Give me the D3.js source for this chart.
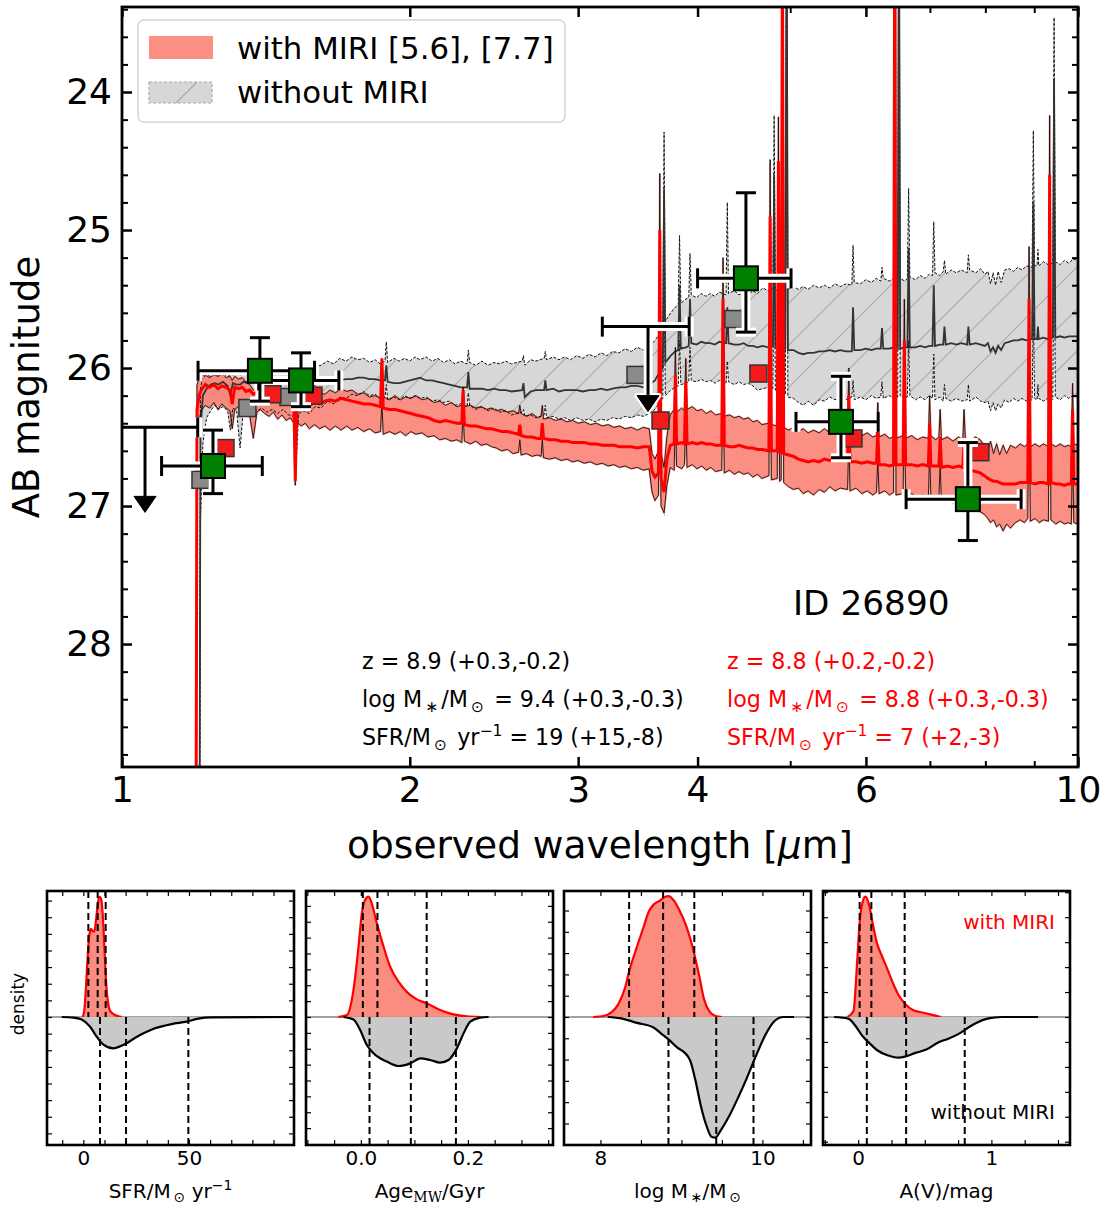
<!DOCTYPE html>
<html>
<head>
<meta charset="utf-8">
<script src="https://cdn.jsdelivr.net/npm/d3@7"></script>
<style>
  body { margin: 0; background: #fff; }
  svg { display: block; }
  text { font-family: "DejaVu Sans", sans-serif; }
</style>
</head>
<body>
<svg id="fig" width="1117" height="1205"></svg>
<script>
// ---------------- SED model spectra: [wavelength µm, upper, median, lower] in AB mag ----------------
const sedWithMiri = [
  [1.000,32,32,32],[1.193,32,32,32],[1.198,26.12,26.30,26.52],[1.204,26.08,26.20,26.38],
  [1.210,26.06,26.16,26.31],[1.222,26.05,26.12,26.27],[1.235,26.07,26.14,26.29],[1.248,26.05,26.12,26.25],
  [1.260,26.06,26.15,26.30],[1.272,26.04,26.13,26.26],[1.285,26.07,26.14,26.29],[1.297,26.06,26.16,26.31],
  [1.304,26.09,26.26,26.44],[1.312,26.06,26.14,26.30],[1.324,26.08,26.15,26.28],[1.336,26.07,26.14,26.31],
  [1.348,26.10,26.17,26.29],[1.360,26.12,26.16,26.34],[1.372,26.16,26.19,26.51],[1.384,26.15,26.18,26.32],
  [1.396,26.18,26.21,26.30],[1.410,26.17,26.19,26.33],[1.425,26.21,26.22,26.35],[1.440,26.19,26.20,26.32],
  [1.455,26.22,26.23,26.37],[1.470,26.20,26.21,26.34],[1.485,26.23,26.22,26.38],[1.500,26.21,26.24,26.36],
  [1.513,26.24,26.25,26.40],[1.518,26.62,26.82,26.85],[1.523,26.23,26.26,26.39],[1.540,26.21,26.24,26.42],
  [1.555,26.23,26.26,26.40],[1.570,26.20,26.27,26.44],[1.590,26.21,26.25,26.41],[1.610,26.18,26.26,26.44],
  [1.630,26.19,26.24,26.42],[1.650,26.16,26.23,26.45],[1.672,26.18,26.24,26.42],[1.695,26.15,26.22,26.45],
  [1.718,26.17,26.23,26.42],[1.740,26.16,26.24,26.45],[1.765,26.19,26.25,26.43],[1.790,26.18,26.26,26.46],
  [1.815,26.21,26.26,26.44],[1.840,26.20,26.27,26.47],[1.864,26.22,26.28,26.46],[1.870,25.95,25.93,26.25],
  [1.876,26.21,26.29,26.48],[1.905,26.23,26.30,26.46],[1.930,26.20,26.30,26.48],[1.955,26.23,26.31,26.46],
  [1.980,26.21,26.32,26.49],[2.005,26.22,26.33,26.46],[2.030,26.20,26.34,26.48],[2.060,26.23,26.35,26.47],
  [2.090,26.22,26.36,26.50],[2.120,26.25,26.38,26.49],[2.150,26.24,26.39,26.52],[2.180,26.27,26.38,26.51],
  [2.210,26.25,26.39,26.53],[2.240,26.28,26.40,26.52],[2.267,26.27,26.40,26.54],[2.274,26.14,26.16,26.30],
  [2.281,26.28,26.41,26.53],[2.315,26.27,26.42,26.55],[2.345,26.29,26.42,26.53],[2.375,26.28,26.43,26.56],
  [2.405,26.30,26.44,26.55],[2.435,26.29,26.44,26.57],[2.465,26.31,26.45,26.58],[2.495,26.30,26.46,26.60],
  [2.530,26.32,26.46,26.59],[2.565,26.31,26.47,26.62],[2.599,26.33,26.48,26.61],[2.607,26.27,26.41,26.52],
  [2.615,26.33,26.49,26.63],[2.650,26.35,26.50,26.62],[2.685,26.33,26.50,26.64],[2.720,26.36,26.51,26.63],
  [2.744,26.35,26.51,26.64],[2.752,26.27,26.40,26.52],[2.760,26.37,26.51,26.65],[2.800,26.36,26.52,26.66],
  [2.840,26.38,26.52,26.65],[2.880,26.37,26.53,26.67],[2.920,26.39,26.53,26.66],[2.960,26.38,26.54,26.68],
  [3.000,26.40,26.54,26.67],[3.045,26.39,26.54,26.69],[3.090,26.41,26.55,26.68],[3.135,26.40,26.55,26.70],
  [3.180,26.42,26.56,26.69],[3.225,26.41,26.56,26.71],[3.270,26.43,26.56,26.70],[3.315,26.42,26.57,26.72],
  [3.360,26.44,26.57,26.71],[3.410,26.43,26.57,26.73],[3.460,26.45,26.58,26.72],[3.510,26.43,26.57,26.74],
  [3.560,26.44,26.57,26.73],[3.585,26.62,26.75,26.90],[3.610,26.66,26.79,26.96],[3.641,26.60,26.76,26.92],
  [3.652,24.59,25.00,25.60],[3.663,26.62,26.80,27.00],[3.690,26.72,26.90,27.05],[3.715,26.50,26.66,26.85],
  [3.745,26.34,26.56,26.72],[3.781,26.30,26.55,26.74],[3.792,25.85,26.05,26.30],[3.803,26.32,26.55,26.71],
  [3.850,26.29,26.54,26.73],[3.876,26.31,26.55,26.70],[3.888,25.93,26.10,26.35],[3.900,26.30,26.55,26.72],
  [3.950,26.28,26.54,26.70],[3.995,26.31,26.55,26.73],[4.040,26.30,26.54,26.71],[4.085,26.33,26.55,26.74],
  [4.130,26.31,26.55,26.72],[4.175,26.34,26.56,26.75],[4.240,26.33,26.56,26.74],[4.253,25.20,25.50,25.90],
  [4.266,26.35,26.56,26.76],[4.320,26.34,26.57,26.74],[4.370,26.36,26.57,26.77],[4.420,26.35,26.56,26.75],
  [4.470,26.37,26.57,26.77],[4.520,26.36,26.58,26.76],[4.570,26.39,26.58,26.79],[4.620,26.38,26.59,26.77],
  [4.670,26.41,26.59,26.80],[4.750,26.40,26.60,26.78],[4.764,24.49,24.90,25.40],[4.778,26.41,26.60,26.81],
  [4.846,26.42,26.60,26.80],[4.860,24.18,24.50,25.00],[4.874,26.42,26.61,26.82],[4.892,26.43,26.61,26.81],
  [4.907,22.50,22.80,23.20],[4.922,26.43,26.62,26.83],[4.980,26.45,26.63,26.86],[5.040,26.43,26.64,26.88],
  [5.100,26.46,26.66,26.87],[5.160,26.44,26.67,26.91],[5.220,26.47,26.68,26.89],[5.290,26.45,26.67,26.92],
  [5.360,26.47,26.68,26.88],[5.430,26.44,26.66,26.90],[5.500,26.47,26.67,26.86],[5.570,26.45,26.66,26.89],
  [5.640,26.47,26.67,26.87],[5.741,26.46,26.67,26.88],[5.758,26.00,26.20,26.50],[5.775,26.48,26.68,26.89],
  [5.860,26.46,26.68,26.87],[5.940,26.49,26.69,26.91],[6.020,26.47,26.68,26.89],[6.100,26.50,26.69,26.92],
  [6.155,26.49,26.69,26.90],[6.174,26.25,26.45,26.65],[6.193,26.50,26.70,26.91],[6.280,26.48,26.70,26.89],
  [6.350,26.51,26.71,26.92],[6.413,26.50,26.70,26.90],[6.432,22.00,22.50,23.00],[6.451,26.51,26.70,26.92],
  [6.562,26.49,26.70,26.91],[6.582,25.50,25.80,26.20],[6.602,26.51,26.70,26.93],[6.700,26.49,26.70,26.91],
  [6.790,26.52,26.71,26.94],[6.880,26.50,26.70,26.92],[6.974,26.51,26.71,26.95],[6.995,26.20,26.40,26.60],
  [7.016,26.49,26.71,26.93],[7.100,26.52,26.71,26.96],[7.153,26.50,26.71,26.94],[7.175,26.30,26.50,26.70],
  [7.197,26.52,26.72,26.97],[7.300,26.50,26.71,26.95],[7.400,26.53,26.72,26.98],[7.500,26.50,26.71,26.96],
  [7.577,26.52,26.72,27.00],[7.600,26.30,26.55,26.75],[7.623,26.51,26.73,26.98],[7.720,26.53,26.74,27.01],
  [7.810,26.50,26.75,27.02],[7.900,26.52,26.76,27.04],[7.980,26.56,26.78,27.06],[8.050,26.60,26.80,27.09],
  [8.100,26.53,26.81,27.12],[8.160,26.62,26.82,27.10],[8.220,26.55,26.82,27.15],[8.280,26.63,26.83,27.13],
  [8.350,26.56,26.84,27.18],[8.420,26.62,26.84,27.13],[8.500,26.56,26.84,27.16],[8.600,26.58,26.84,27.12],
  [8.700,26.55,26.83,27.10],[8.790,26.57,26.83,27.12],[8.861,26.55,26.83,27.09],[8.888,25.12,25.50,26.00],
  [8.915,26.57,26.83,27.11],[9.020,26.55,26.84,27.09],[9.110,26.57,26.83,27.12],[9.200,26.55,26.83,27.10],
  [9.312,26.57,26.84,27.11],[9.340,24.17,24.60,25.20],[9.368,26.55,26.83,27.10],[9.480,26.57,26.84,27.13],
  [9.580,26.55,26.84,27.11],[9.680,26.57,26.85,27.13],[9.770,26.56,26.84,27.12],[9.840,26.57,26.84,27.13],
  [9.870,26.11,26.30,26.60],[9.900,26.55,26.84,27.12],[10.00,26.56,26.84,27.13]
];

const sedWithoutMiri = [
  [1.000,32,32,32],[1.203,32,32,32],[1.208,26.15,26.45,27.10],[1.215,26.07,26.20,26.55],
  [1.226,26.05,26.15,26.36],[1.238,26.06,26.12,26.31],[1.250,26.04,26.11,26.27],[1.262,26.06,26.12,26.30],
  [1.275,26.04,26.10,26.28],[1.290,26.06,26.13,26.31],[1.298,26.05,26.20,26.45],[1.306,26.05,26.11,26.29],
  [1.318,26.03,26.12,26.31],[1.329,26.05,26.12,26.58],[1.340,26.04,26.10,26.29],[1.355,26.05,26.11,26.31],
  [1.370,26.03,26.10,26.28],[1.385,26.04,26.12,26.31],[1.400,26.02,26.12,26.29],[1.418,26.04,26.14,26.32],
  [1.436,26.02,26.13,26.30],[1.455,26.03,26.15,26.33],[1.474,26.01,26.16,26.30],[1.493,26.04,26.16,26.34],
  [1.514,26.02,26.18,26.35],[1.522,26.30,26.50,26.68],[1.530,26.03,26.17,26.33],[1.550,26.00,26.15,26.31],
  [1.570,26.02,26.14,26.33],[1.592,25.99,26.12,26.28],[1.615,25.98,26.11,26.29],[1.640,25.95,26.10,26.24],
  [1.665,25.97,26.11,26.26],[1.690,25.93,26.09,26.21],[1.715,25.95,26.08,26.22],[1.740,25.92,26.08,26.19],
  [1.765,25.94,26.07,26.20],[1.790,25.93,26.07,26.17],[1.815,25.96,26.08,26.20],[1.840,25.94,26.08,26.19],
  [1.862,25.97,26.09,26.22],[1.884,25.95,26.09,26.21],[1.890,25.81,25.98,26.12],[1.896,25.96,26.10,26.23],
  [1.925,25.93,26.11,26.21],[1.950,25.95,26.11,26.23],[1.975,25.93,26.10,26.20],[2.000,25.95,26.09,26.22],
  [2.025,25.92,26.08,26.20],[2.050,25.94,26.07,26.22],[2.080,25.92,26.09,26.21],[2.110,25.95,26.09,26.24],
  [2.140,25.93,26.10,26.23],[2.170,25.96,26.11,26.25],[2.200,25.94,26.12,26.24],[2.230,25.97,26.13,26.27],
  [2.260,25.95,26.14,26.26],[2.296,25.97,26.14,26.28],[2.303,25.87,26.03,26.18],[2.310,25.96,26.15,26.27],
  [2.345,25.98,26.15,26.30],[2.380,25.95,26.15,26.28],[2.415,25.98,26.16,26.31],[2.450,25.96,26.15,26.29],
  [2.485,25.97,26.16,26.32],[2.520,25.95,26.16,26.31],[2.555,25.97,26.17,26.34],[2.622,25.95,26.16,26.32],
  [2.630,25.91,26.11,26.30],[2.638,25.98,26.21,26.35],[2.675,25.94,26.17,26.34],[2.710,25.95,26.16,26.36],
  [2.764,25.93,26.16,26.34],[2.772,25.88,26.09,26.27],[2.780,25.94,26.16,26.36],[2.825,25.92,26.15,26.35],
  [2.865,25.94,26.17,26.37],[2.905,25.92,26.16,26.36],[2.945,25.94,26.16,26.38],[2.990,25.91,26.16,26.36],
  [3.035,25.93,26.17,26.38],[3.080,25.90,26.16,26.37],[3.125,25.92,26.16,26.39],[3.170,25.89,26.15,26.37],
  [3.215,25.91,26.16,26.38],[3.260,25.88,26.15,26.36],[3.310,25.89,26.14,26.37],[3.360,25.86,26.14,26.35],
  [3.410,25.88,26.13,26.36],[3.460,25.85,26.13,26.34],[3.510,25.87,26.14,26.35],[3.560,25.85,26.12,26.33],
  [3.610,25.80,26.09,26.30],[3.650,25.75,26.03,26.25],[3.679,25.71,26.00,26.22],[3.690,24.29,24.70,25.30],
  [3.701,25.66,25.96,26.20],[3.750,25.60,25.91,26.16],[3.790,25.56,25.88,26.14],[3.818,25.54,25.87,26.13],
  [3.830,25.04,25.40,25.80],[3.842,25.53,25.86,26.12],[3.890,25.50,25.85,26.11],[3.916,25.49,25.84,26.10],
  [3.928,25.17,25.50,25.85],[3.940,25.47,25.82,26.09],[3.990,25.49,25.83,26.10],[4.035,25.46,25.81,26.08],
  [4.080,25.48,25.82,26.10],[4.125,25.46,25.82,26.09],[4.170,25.48,25.83,26.11],[4.215,25.45,25.81,26.09],
  [4.284,25.47,25.82,26.11],[4.297,24.80,25.56,25.95],[4.310,25.46,25.82,26.10],[4.370,25.44,25.83,26.12],
  [4.420,25.47,25.83,26.10],[4.470,25.45,25.82,26.12],[4.520,25.47,25.84,26.11],[4.570,25.44,25.84,26.13],
  [4.620,25.46,25.85,26.16],[4.680,25.42,25.84,26.15],[4.740,25.44,25.85,26.14],[4.796,25.43,25.84,26.15],
  [4.810,24.17,24.60,25.10],[4.824,25.44,25.85,26.16],[4.896,25.42,25.85,26.17],[4.910,23.00,23.40,24.00],
  [4.924,25.42,25.86,26.19],[4.942,25.43,25.86,26.19],[4.957,22.20,22.60,23.10],[4.972,25.43,25.87,26.21],
  [5.040,25.41,25.87,26.22],[5.100,25.43,25.89,26.25],[5.160,25.41,25.90,26.27],[5.220,25.43,25.89,26.24],
  [5.290,25.40,25.89,26.27],[5.360,25.42,25.88,26.23],[5.430,25.40,25.88,26.24],[5.500,25.42,25.87,26.21],
  [5.570,25.39,25.88,26.23],[5.640,25.41,25.87,26.21],[5.720,25.39,25.88,26.23],[5.800,25.40,25.88,26.21],
  [5.817,25.11,25.56,26.09],[5.834,25.38,25.87,26.23],[5.920,25.39,25.87,26.21],[6.000,25.36,25.86,26.23],
  [6.080,25.38,25.87,26.20],[6.150,25.35,25.86,26.22],[6.218,25.37,25.86,26.21],[6.237,25.27,25.71,26.10],
  [6.256,25.35,25.86,26.22],[6.350,25.37,25.86,26.20],[6.420,25.35,25.85,26.22],[6.478,25.36,25.86,26.21],
  [6.497,22.00,22.40,22.90],[6.516,25.35,25.86,26.20],[6.590,25.37,25.85,26.22],[6.630,25.35,25.85,26.21],
  [6.650,24.70,25.13,25.80],[6.670,25.34,25.85,26.20],[6.760,25.36,25.85,26.23],[6.840,25.33,25.84,26.21],
  [6.920,25.35,25.85,26.23],[6.990,25.32,25.84,26.20],[7.044,25.33,25.84,26.22],[7.065,24.94,25.40,25.90],
  [7.086,25.31,25.84,26.23],[7.170,25.33,25.83,26.21],[7.228,25.30,25.83,26.24],[7.250,25.22,25.70,26.12],
  [7.272,25.32,25.83,26.22],[7.370,25.29,25.82,26.24],[7.460,25.31,25.83,26.22],[7.550,25.29,25.82,26.24],
  [7.657,25.31,25.83,26.23],[7.680,25.18,25.70,26.12],[7.703,25.29,25.83,26.24],[7.820,25.31,25.82,26.21],
  [7.910,25.28,25.83,26.24],[7.990,25.32,25.84,26.25],[8.050,25.30,25.82,26.24],[8.100,25.39,25.88,26.31],
  [8.150,25.31,25.85,26.25],[8.200,25.40,25.89,26.31],[8.250,25.30,25.84,26.26],[8.310,25.38,25.87,26.29],
  [8.380,25.29,25.82,26.23],[8.470,25.28,25.81,26.25],[8.560,25.30,25.80,26.22],[8.650,25.27,25.80,26.24],
  [8.740,25.29,25.79,26.22],[8.830,25.26,25.80,26.24],[8.953,25.27,25.79,26.23],[8.980,24.28,24.80,25.60],
  [9.007,25.26,25.79,26.22],[9.062,25.25,25.79,26.23],[9.080,25.14,25.70,26.12],[9.098,25.26,25.79,26.22],
  [9.200,25.23,25.78,26.24],[9.300,25.25,25.79,26.22],[9.412,25.24,25.78,26.23],[9.440,23.46,23.90,24.80],
  [9.468,25.23,25.78,26.21],[9.580,25.25,25.77,26.23],[9.680,25.22,25.78,26.20],[9.780,25.24,25.77,26.22],
  [9.880,25.21,25.77,26.20],[10.00,25.22,25.77,26.21]
];

// ---------------- photometry ----------------
const filters      = ["F105W", "F125W", "F140W", "F160W", "F356W", "F444W", "F560W", "F770W"];
const filterWave   = [1.057, 1.245, 1.394, 1.539, 3.55, 4.494, 5.65, 7.67];
const filterMin    = [0.94, 1.100, 1.201, 1.390, 3.18, 4.00, 5.07, 6.61];
const filterMax    = [1.20, 1.402, 1.590, 1.686, 3.92, 5.01, 6.18, 8.72];
const obsMag       = [26.43, 26.71, 26.02, 26.09, 25.70, 25.35, 26.39, 26.95];
const obsMagBright = [null, 26.45, 25.78, 25.89, null, 24.73, 26.06, 26.54];
const obsMagFaint  = [null, 26.91, 26.24, 26.28, null, 25.74, 26.65, 27.25];
const upperLimit   = [true, false, false, false, true, false, false, false];
const modelMagWithMiri    = [null, 26.58, 26.19, 26.20, 26.38, 26.04, 26.51, 26.61];
const modelMagWithoutMiri = [null, 26.81, 26.29, 26.21, 26.05, 25.645, null, null];

// ---------------- posterior densities: [value, normalised density] ----------------
const sfrWithMiri = [[-0.31,0],[0.47,0.056],[1.26,0.24],[2.05,0.48],[2.84,0.65],[3.63,0.70],[4.42,0.68],
  [5.2,0.68],[6.0,0.77],[6.78,0.89],[7.57,0.955],[8.36,0.94],[9.15,0.82],[9.94,0.56],[10.73,0.29],
  [11.52,0.135],[12.62,0.05],[14.99,0.016],[18.14,0]];
const sfrWithoutMiri = [[-10.2,0],[-4.7,0.005],[-0.8,0.02],[3.2,0.077],[6.3,0.156],[9.5,0.22],[14.2,0.249],
  [18.9,0.222],[26,0.151],[33.9,0.09],[41.8,0.056],[48.9,0.037],[54.4,0.013],[60.7,0.003],[98.6,0]];
const ageWithMiri = [[-0.0419,0],[-0.026,0.016],[-0.0138,0.214],[-0.0044,0.558],[0.0019,0.825],[0.008,0.93],
  [0.0143,0.955],[0.0205,0.90],[0.0299,0.743],[0.0424,0.558],[0.0548,0.399],[0.0704,0.28],[0.0797,0.228],
  [0.0922,0.175],[0.1047,0.140],[0.1234,0.108],[0.148,0.056],[0.173,0.021],[0.198,0.005],[0.223,0]];
const ageWithoutMiri = [[-0.0324,0],[-0.0138,0.019],[-0.0013,0.103],[0.0112,0.222],[0.0236,0.288],[0.0486,0.354],
  [0.0704,0.389],[0.0922,0.368],[0.1109,0.328],[0.1296,0.341],[0.148,0.362],[0.1638,0.341],[0.1794,0.249],
  [0.1919,0.13],[0.2044,0.037],[0.223,0.005],[0.2386,0]];
const massWithMiri = [[7.91,0],[8.04,0.008],[8.13,0.034],[8.22,0.1],[8.31,0.246],[8.35,0.352],[8.44,0.537],
  [8.53,0.709],[8.60,0.841],[8.66,0.894],[8.73,0.921],[8.80,0.955],[8.84,0.96],[8.91,0.921],[8.97,0.854],
  [9.06,0.722],[9.15,0.524],[9.22,0.325],[9.28,0.14],[9.35,0.04],[9.42,0.008],[9.50,0]];
const massWithoutMiri = [[8.09,0],[8.27,0.013],[8.44,0.045],[8.66,0.085],[8.75,0.132],[8.84,0.177],[8.95,0.243],
  [9.04,0.283],[9.11,0.349],[9.17,0.495],[9.24,0.706],[9.31,0.865],[9.37,0.95],[9.42,0.958],[9.48,0.905],
  [9.59,0.786],[9.70,0.640],[9.81,0.481],[9.92,0.309],[10.04,0.138],[10.15,0.032],[10.26,0],[10.39,0]];
const avWithMiri = [[-0.08,0],[-0.035,0.048],[-0.008,0.431],[0.011,0.749],[0.032,0.907],[0.054,0.955],
  [0.081,0.894],[0.108,0.749],[0.14,0.59],[0.18,0.48],[0.22,0.378],[0.26,0.272],[0.30,0.180],[0.355,0.101],
  [0.41,0.056],[0.49,0.034],[0.57,0.013],[0.62,0]];
const avWithoutMiri = [[-0.18,0],[-0.075,0.013],[-0.02,0.071],[0.032,0.151],[0.086,0.209],[0.14,0.262],
  [0.22,0.304],[0.30,0.323],[0.368,0.309],[0.435,0.283],[0.516,0.257],[0.597,0.204],[0.677,0.172],
  [0.758,0.132],[0.825,0.085],[0.89,0.045],[0.97,0.013],[1.08,0],[1.35,0]];

// 16th / 50th / 84th percentiles
const sfrPctWith = [2.37, 6.78, 10.57],    sfrPctWithout = [7.89, 20.2, 49.7];
const agePctWith = [0.0037, 0.031, 0.123], agePctWithout = [0.0162, 0.0934, 0.1776];
const massPctWith = [8.354, 8.774, 9.159], massPctWithout = [8.84, 9.43, 9.89];
const avPctWith = [0.011, 0.099, 0.349],   avPctWithout = [0.065, 0.36, 0.80];

// tick labels
const wavelengthTicks = [1, 2, 3, 4, 6, 10];
const wavelengthMinorTicks = [5, 7, 8, 9];
const magnitudeTicks = [24, 25, 26, 27, 28];

// ---------------- drawing ----------------
const svg = d3.select("#fig");
const FONT = "DejaVu Sans, sans-serif";

function rich(sel, parts, fs) {
  let shift = 0;
  parts.forEach(([t, kind, fam, style]) => {
    let target = 0, size = fs;
    if (kind === "sub") { target = 0.22 * fs; size = 0.7 * fs; }
    if (kind === "sup") { target = -0.42 * fs; size = 0.7 * fs; }
    const ts = sel.append("tspan").text(t).attr("dy", target - shift).attr("font-size", size);
    if (fam) ts.attr("font-family", fam);
    if (style) ts.attr("font-style", style);
    shift = target;
  });
}

const M = { left: 122, right: 1078, top: 7, bottom: 767 };
const x = d3.scaleLog().domain([1, 10]).range([M.left, M.right]);
const y = d3.scaleLinear().domain([23.384, 28.891]).range([M.top, M.bottom]);

const defs = svg.append("defs");
defs.append("clipPath").attr("id", "plotClip").append("rect")
  .attr("x", M.left).attr("y", M.top).attr("width", M.right - M.left).attr("height", M.bottom - M.top);
const hatch = defs.append("pattern").attr("id", "hatch").attr("patternUnits", "userSpaceOnUse")
  .attr("width", 42).attr("height", 42);
hatch.append("path").attr("d", "M-6,6 L6,-6 M0,42 L42,0 M36,48 L48,36")
  .attr("stroke", "#a9a9a9").attr("stroke-width", 1.1);

const plot = svg.append("g").attr("clip-path", "url(#plotClip)");

const bandArea = d3.area().x(d => x(d[0])).y0(d => y(d[3])).y1(d => y(d[1]));
const lineOf = k => d3.line().x(d => x(d[0])).y(d => y(d[k]));

// without-MIRI band (grey, hatched)
plot.append("path").datum(sedWithoutMiri).attr("d", bandArea).attr("fill", "#d7d7d7");
plot.append("path").datum(sedWithoutMiri).attr("d", bandArea).attr("fill", "url(#hatch)");
// with-MIRI band (salmon)
plot.append("path").datum(sedWithMiri).attr("d", bandArea)
  .attr("fill", "salmon").attr("fill-opacity", 0.88)
  .attr("stroke", "salmon").attr("stroke-opacity", 0.7).attr("stroke-width", 2);

// grey bounds and median
[1, 3].forEach(k => plot.append("path").datum(sedWithoutMiri).attr("d", lineOf(k))
  .attr("fill", "none").attr("stroke", "#111").attr("stroke-width", 1).attr("stroke-dasharray", "3,1.6"));
plot.append("path").datum(sedWithoutMiri).attr("d", lineOf(2))
  .attr("fill", "none").attr("stroke", "#333").attr("stroke-width", 1.8);
// red bounds and median
[1, 3].forEach(k => plot.append("path").datum(sedWithMiri).attr("d", lineOf(k))
  .attr("fill", "none").attr("stroke", "#111").attr("stroke-width", 0.9));
plot.append("path").datum(sedWithMiri).attr("d", lineOf(2))
  .attr("fill", "none").attr("stroke", "#ff0000").attr("stroke-width", 3);

// model photometry squares (offset sideways for legibility)
const modelSize = 17, modelShift = 12.5;
filters.forEach((f, i) => {
  if (modelMagWithoutMiri[i] != null)
    plot.append("rect").attr("x", x(filterWave[i]) - modelShift - modelSize / 2)
      .attr("y", y(modelMagWithoutMiri[i]) - modelSize / 2).attr("width", modelSize).attr("height", modelSize)
      .attr("fill", "#8a8a8a").attr("stroke", "#333").attr("stroke-width", 1.5);
});
filters.forEach((f, i) => {
  if (modelMagWithMiri[i] != null)
    plot.append("rect").attr("x", x(filterWave[i]) + modelShift - modelSize / 2)
      .attr("y", y(modelMagWithMiri[i]) - modelSize / 2).attr("width", modelSize).attr("height", modelSize)
      .attr("fill", "#f21a1a").attr("stroke", "#333").attr("stroke-width", 1.5);
});

// observed photometry with error bars (white halo underneath)
const cap = 10, arrowLen = 85, headW = 11, headH = 16, obsSize = 24;
function errorPaths(i) {
  const cx = x(filterWave[i]), cy = y(obsMag[i]);
  const x0 = x(filterMin[i]), x1 = x(filterMax[i]);
  const segs = [[x0, cy, x1, cy], [x0, cy - cap, x0, cy + cap], [x1, cy - cap, x1, cy + cap]];
  if (upperLimit[i]) {
    segs.push([cx, cy, cx, cy + arrowLen - headH]);
  } else {
    const yb = y(obsMagBright[i]), yf = y(obsMagFaint[i]);
    segs.push([cx, yb, cx, yf], [cx - cap, yb, cx + cap, yb], [cx - cap, yf, cx + cap, yf]);
  }
  return segs;
}
["halo", "bar"].forEach(layer => {
  filters.forEach((f, i) => {
    errorPaths(i).forEach(s => plot.append("line")
      .attr("x1", s[0]).attr("y1", s[1]).attr("x2", s[2]).attr("y2", s[3])
      .attr("stroke", layer === "halo" ? "#fff" : "#000")
      .attr("stroke-width", layer === "halo" ? 9 : 3));
    if (upperLimit[i]) {
      const cx = x(filterWave[i]), tip = y(obsMag[i]) + arrowLen;
      plot.append("path")
        .attr("d", `M${cx - headW},${tip - headH} L${cx + headW},${tip - headH} L${cx},${tip} Z`)
        .attr("fill", "#000").attr("stroke", layer === "halo" ? "#fff" : "#000")
        .attr("stroke-width", layer === "halo" ? 5 : 1).attr("stroke-linejoin", "round");
    }
  });
});
filters.forEach((f, i) => {
  if (upperLimit[i]) return;
  plot.append("rect").attr("x", x(filterWave[i]) - obsSize / 2).attr("y", y(obsMag[i]) - obsSize / 2)
    .attr("width", obsSize).attr("height", obsSize)
    .attr("fill", "#008000").attr("stroke", "#000").attr("stroke-width", 2);
});

// axes of the spectrum panel
function styleAxis(g, w) {
  g.select(".domain").remove();
  g.attr("font-family", FONT);
  g.selectAll(".tick line").attr("stroke", "#000").attr("stroke-width", w);
}
const yMinor = d3.range(117, 145).map(k => k / 5).filter(v => Math.abs(v - Math.round(v)) > 1e-6);
svg.append("g").attr("transform", `translate(0,${M.bottom})`)
  .call(d3.axisBottom(x).tickValues(wavelengthTicks).tickSize(-10).tickPadding(9).tickFormat(d3.format("d")))
  .call(g => styleAxis(g, 2.5)).attr("font-size", 36);
svg.append("g").attr("transform", `translate(0,${M.bottom})`)
  .call(d3.axisBottom(x).tickValues(wavelengthMinorTicks).tickSize(-6).tickFormat(""))
  .call(g => styleAxis(g, 2));
svg.append("g").attr("transform", `translate(0,${M.top})`)
  .call(d3.axisTop(x).tickValues(wavelengthTicks).tickSize(-10).tickFormat(""))
  .call(g => styleAxis(g, 2.5));
svg.append("g").attr("transform", `translate(0,${M.top})`)
  .call(d3.axisTop(x).tickValues(wavelengthMinorTicks).tickSize(-6).tickFormat(""))
  .call(g => styleAxis(g, 2));
svg.append("g").attr("transform", `translate(${M.left},0)`)
  .call(d3.axisLeft(y).tickValues(magnitudeTicks).tickSize(-10).tickPadding(10).tickFormat(d3.format("d")))
  .call(g => styleAxis(g, 2.5)).attr("font-size", 36);
svg.append("g").attr("transform", `translate(${M.left},0)`)
  .call(d3.axisLeft(y).tickValues(yMinor).tickSize(-6).tickFormat(""))
  .call(g => styleAxis(g, 2));
svg.append("g").attr("transform", `translate(${M.right},0)`)
  .call(d3.axisRight(y).tickValues(magnitudeTicks).tickSize(-10).tickFormat(""))
  .call(g => styleAxis(g, 2.5));
svg.append("g").attr("transform", `translate(${M.right},0)`)
  .call(d3.axisRight(y).tickValues(yMinor).tickSize(-6).tickFormat(""))
  .call(g => styleAxis(g, 2));
svg.append("rect").attr("x", M.left).attr("y", M.top).attr("width", M.right - M.left)
  .attr("height", M.bottom - M.top).attr("fill", "none").attr("stroke", "#000").attr("stroke-width", 2.8);

// axis titles
rich(svg.append("text").attr("x", (M.left + M.right) / 2).attr("y", 858).attr("text-anchor", "middle"),
  [["observed wavelength ["], ["μ", null, null, "italic"], ["m]"]], 37.5);
svg.append("text").attr("transform", `translate(39,${(M.top + M.bottom) / 2}) rotate(-90)`)
  .attr("text-anchor", "middle").attr("font-size", 37).text("AB magnitude");

// legend
const lg = svg.append("g");
lg.append("rect").attr("x", 138).attr("y", 20).attr("width", 427).attr("height", 102).attr("rx", 6)
  .attr("fill", "#fff").attr("fill-opacity", 0.85).attr("stroke", "#d4d4d4").attr("stroke-width", 1.5);
lg.append("rect").attr("x", 149).attr("y", 36).attr("width", 64).attr("height", 23)
  .attr("fill", "salmon").attr("fill-opacity", 0.88);
lg.append("rect").attr("x", 149).attr("y", 82).attr("width", 63).attr("height", 21)
  .attr("fill", "#d7d7d7").attr("stroke", "#aaa").attr("stroke-dasharray", "3,2").attr("stroke-width", 1.2);
lg.append("path").attr("d", "M176,103 L197,82").attr("stroke", "#a9a9a9").attr("stroke-width", 1.1);
lg.append("text").attr("x", 237).attr("y", 59).attr("font-size", 30.8).text("with MIRI [5.6], [7.7]");
lg.append("text").attr("x", 237).attr("y", 103).attr("font-size", 30.8).text("without MIRI");

// object annotation
svg.append("text").attr("x", 793).attr("y", 615).attr("font-size", 34.3).text("ID 26890");
const statFs = 22.2;
const statsWithout = [
  [["z = 8.9 (+0.3,-0.2)"]],
  [["log M"], ["\u2009∗\u2009", "sub"], ["/M"], ["\u2009⊙\u2009", "sub"], [" = 9.4 (+0.3,-0.3)"]],
  [["SFR/M"], ["\u2009⊙\u2009", "sub"], [" yr"], ["−1", "sup"], [" = 19 (+15,-8)"]]
];
const statsWith = [
  [["z = 8.8 (+0.2,-0.2)"]],
  [["log M"], ["\u2009∗\u2009", "sub"], ["/M"], ["\u2009⊙\u2009", "sub"], [" = 8.8 (+0.3,-0.3)"]],
  [["SFR/M"], ["\u2009⊙\u2009", "sub"], [" yr"], ["−1", "sup"], [" = 7 (+2,-3)"]]
];
const statBase = [669, 707, 745];
statsWithout.forEach((p, i) => rich(svg.append("text").attr("x", 362).attr("y", statBase[i]).attr("fill", "#000"), p, statFs));
statsWith.forEach((p, i) => rich(svg.append("text").attr("x", 727).attr("y", statBase[i]).attr("fill", "#ff0000"), p, statFs));

// ---------------- posterior panels ----------------
const P = { top: 891, h: 254, w: 247 };
const panelLeft = [47, 306, 564, 823];
const panels = [
  { dom: [-17.2, 99.7], ticks: d3.range(-1, 10).map(k => k * 10), labelled: [0, 50], fmt: d3.format("d"),
    red: sfrWithMiri, grey: sfrWithoutMiri, pr: sfrPctWith, pg: sfrPctWithout, ystep: 0.132,
    title: [["SFR/M"], ["\u2009⊙", "sub"], [" yr"], ["−1", "sup"]] },
  { dom: [-0.1025, 0.359], ticks: d3.range(-2, 8).map(k => k * 0.05), labelled: [0, 0.2], fmt: d3.format(".1f"),
    red: ageWithMiri, grey: ageWithoutMiri, pr: agePctWith, pg: agePctWithout, ystep: 0.126,
    title: [["Age"], ["MW", "sub", "DejaVu Serif, serif"], ["/Gyr"]] },
  { dom: [7.55, 10.6], ticks: d3.range(16, 22).map(k => k * 0.5), labelled: [8, 10], fmt: d3.format("d"),
    red: massWithMiri, grey: massWithoutMiri, pr: massPctWith, pg: massPctWithout, ystep: 0.169,
    title: [["log M"], ["\u2009∗", "sub"], ["/M"], ["\u2009⊙", "sub"]] },
  { dom: [-0.264, 1.59], ticks: d3.range(-1, 7).map(k => k * 0.25), labelled: [0, 1], fmt: d3.format("d"),
    red: avWithMiri, grey: avWithoutMiri, pr: avPctWith, pg: avPctWithout, ystep: 0.198,
    title: [["A(V)/mag"]] }
];

panels.forEach((p, idx) => {
  const L = panelLeft[idx];
  const px = d3.scaleLinear().domain(p.dom).range([L, L + P.w]);
  const py = d3.scaleLinear().domain([-1.016, 1]).range([P.top + P.h, P.top]);
  const g = svg.append("g");
  const cid = "pclip" + idx;
  defs.append("clipPath").attr("id", cid).append("rect")
    .attr("x", L).attr("y", P.top).attr("width", P.w).attr("height", P.h);
  const inner = g.append("g").attr("clip-path", `url(#${cid})`);

  inner.append("line").attr("x1", L).attr("x2", L + P.w).attr("y1", py(0)).attr("y2", py(0))
    .attr("stroke", "#444").attr("stroke-width", 1.2);

  const up = d3.area().curve(d3.curveMonotoneX).x(d => px(d[0])).y0(py(0)).y1(d => py(d[1]));
  const down = d3.area().curve(d3.curveMonotoneX).x(d => px(d[0])).y0(py(0)).y1(d => py(-d[1]));
  inner.append("path").datum(p.red).attr("d", up).attr("fill", "salmon").attr("fill-opacity", 0.9);
  inner.append("path").datum(p.red).attr("d", up.lineY1()).attr("fill", "none")
    .attr("stroke", "#ff0000").attr("stroke-width", 2.2);
  inner.append("path").datum(p.grey).attr("d", down).attr("fill", "#c9c9c9");
  inner.append("path").datum(p.grey).attr("d", down.lineY1()).attr("fill", "none")
    .attr("stroke", "#000").attr("stroke-width", 2.2);

  p.pr.forEach(v => inner.append("line").attr("x1", px(v)).attr("x2", px(v)).attr("y1", P.top).attr("y2", py(0))
    .attr("stroke", "#000").attr("stroke-width", 2).attr("stroke-dasharray", "7,4"));
  p.pg.forEach(v => inner.append("line").attr("x1", px(v)).attr("x2", px(v)).attr("y1", py(0)).attr("y2", P.top + P.h)
    .attr("stroke", "#000").attr("stroke-width", 2).attr("stroke-dasharray", "7,4"));

  const lab = d => p.labelled.some(v => Math.abs(v - d) < 1e-9) ? p.fmt(d) : "";
  const ticks = p.ticks.filter(t => t >= p.dom[0] && t <= p.dom[1]);
  g.append("g").attr("transform", `translate(0,${P.top + P.h})`)
    .call(d3.axisBottom(px).tickValues(ticks).tickSize(-5).tickPadding(6).tickFormat(lab))
    .call(gg => styleAxis(gg, 1.2)).attr("font-size", 20);
  g.append("g").attr("transform", `translate(0,${P.top})`)
    .call(d3.axisTop(px).tickValues(ticks).tickSize(-5).tickFormat(""))
    .call(gg => styleAxis(gg, 1.2));
  const yt = d3.range(-7, 8).map(k => k * p.ystep).filter(v => v > -1.01 && v < 0.995);
  g.append("g").attr("transform", `translate(${L},0)`)
    .call(d3.axisLeft(py).tickValues(yt).tickSize(-5).tickFormat(""))
    .call(gg => styleAxis(gg, 1.2));
  g.append("g").attr("transform", `translate(${L + P.w},0)`)
    .call(d3.axisRight(py).tickValues(yt).tickSize(-5).tickFormat(""))
    .call(gg => styleAxis(gg, 1.2));
  g.append("rect").attr("x", L).attr("y", P.top).attr("width", P.w).attr("height", P.h)
    .attr("fill", "none").attr("stroke", "#000").attr("stroke-width", 2.6);

  rich(g.append("text").attr("x", L + P.w / 2).attr("y", 1198).attr("text-anchor", "middle"), p.title, 20);
});

svg.append("text").attr("transform", "translate(24,1004) rotate(-90)").attr("text-anchor", "middle")
  .attr("font-size", 17).text("density");
svg.append("text").attr("x", 1055).attr("y", 929).attr("text-anchor", "end").attr("font-size", 20)
  .attr("fill", "#ff0000").text("with MIRI");
svg.append("text").attr("x", 1055).attr("y", 1119).attr("text-anchor", "end").attr("font-size", 20)
  .attr("fill", "#000").text("without MIRI");
</script>
</body>
</html>
